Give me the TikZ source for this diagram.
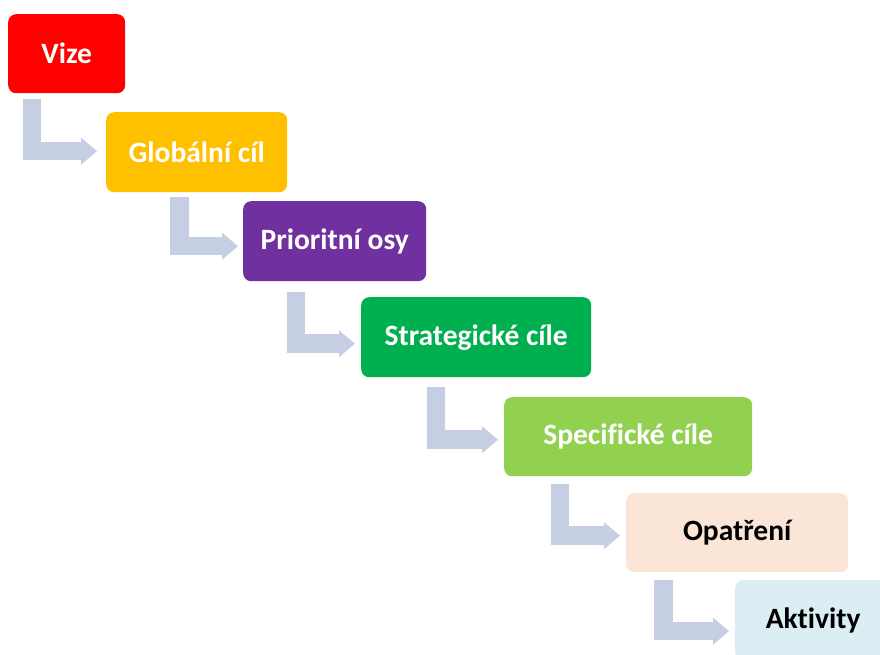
\documentclass[tikz,border=0pt]{standalone}
\usepackage{fontspec}
\setmainfont[Ligatures=NoCommon]{Carlito}
\usetikzlibrary{arrows.meta,calc}
\definecolor{cvize}{HTML}{FF0000}
\definecolor{cglob}{HTML}{FFC000}
\definecolor{cprio}{HTML}{7030A0}
\definecolor{cstrat}{HTML}{00B050}
\definecolor{cspec}{HTML}{92D050}
\definecolor{copat}{HTML}{FBE5D6}
\definecolor{cakt}{HTML}{DAEEF3}
\definecolor{carrow}{HTML}{C5CEE2}
\tikzset{
  stepbox/.style={rounded corners=8pt, anchor=north west, inner sep=0pt,
    font=\fontsize{29.5}{31}\selectfont\bfseries, text=white},
  conn/.style={draw=carrow, line width=18.5pt, line join=miter,
    -{Triangle[length=16pt,width=26pt,fill=carrow]}}
}
\begin{document}
\begin{tikzpicture}[x=1pt,y=-1pt]
\clip (0,0) rectangle (880,655);
\fill[white] (0,0) rectangle (880,655);
\node[stepbox, fill=cvize, minimum width=117pt, minimum height=79pt] (vize) at (8,14) {Vize};
\node[stepbox, fill=cglob, minimum width=181pt, minimum height=80pt] (glob) at (106,112) {Globální cíl};
\node[stepbox, fill=cprio, minimum width=183pt, minimum height=80pt] (prio) at (243,201) {Prioritní osy};
\node[stepbox, fill=cstrat, minimum width=230pt, minimum height=80pt] (strat) at (361,297) {Strategické cíle};
\node[stepbox, fill=cspec, minimum width=248pt, minimum height=79pt] (spec) at (504,397) {Specifické cíle};
\node[stepbox, fill=copat, text=black, minimum width=222pt, minimum height=79pt] (opat) at (626,493) {Opatření};
\node[stepbox, fill=cakt, text=black, minimum width=156pt, minimum height=80pt] (akt) at (735,580) {Aktivity};
\draw[conn] ($(vize.south west)+(24,6)$) |- ($(glob.west)+(-9,-1)$);
\draw[conn] ($(glob.south west)+(73.5,5)$) |- ($(prio.west)+(-5,5)$);
\draw[conn] ($(prio.south west)+(53,11)$) |- ($(strat.west)+(-6,6.5)$);
\draw[conn] ($(strat.south west)+(75,10)$) |- ($(spec.west)+(-6,3)$);
\draw[conn] ($(spec.south west)+(56,8)$) |- ($(opat.west)+(-6,3)$);
\draw[conn] ($(opat.south west)+(37.5,8)$) |- ($(akt.west)+(-6,11)$);
\end{tikzpicture}
\end{document}
